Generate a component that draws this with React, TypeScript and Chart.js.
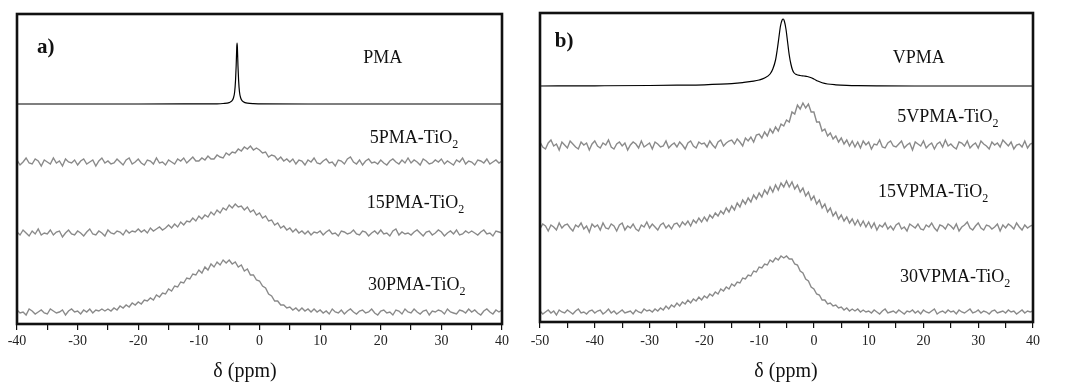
import React, { useEffect, useRef } from 'react';
import { Chart, registerables } from 'chart.js';
Chart.register(...registerables);

const SERIF = '"Liberation Serif", "Times New Roman", serif';

// ---------- panel a (x grid, ppm) ----------
const X_A = [-40,-39.5,-39,-38.5,-38,-37.5,-37,-36.5,-36,-35.5,-35,-34.5,-34,-33.5,-33,-32.5,-32,-31.5,-31,-30.5,-30,-29.5,-29,-28.5,-28,-27.5,-27,-26.5,-26,-25.5,-25,-24.5,-24,-23.5,-23,-22.5,-22,-21.5,-21,-20.5,-20,-19.5,-19,-18.5,-18,-17.5,-17,-16.5,-16,-15.5,-15,-14.5,-14,-13.5,-13,-12.5,-12,-11.5,-11,-10.5,-10,-9.5,-9,-8.5,-8,-7.5,-7,-6.5,-6,-5.5,-5,-4.5,-4,-3.5,-3,-2.5,-2,-1.5,-1,-0.5,0,0.5,1,1.5,2,2.5,3,3.5,4,4.5,5,5.5,6,6.5,7,7.5,8,8.5,9,9.5,10,10.5,11,11.5,12,12.5,13,13.5,14,14.5,15,15.5,16,16.5,17,17.5,18,18.5,19,19.5,20,20.5,21,21.5,22,22.5,23,23.5,24,24.5,25,25.5,26,26.5,27,27.5,28,28.5,29,29.5,30,30.5,31,31.5,32,32.5,33,33.5,34,34.5,35,35.5,36,36.5,37,37.5,38,38.5,39,39.5,40];

const X_PMA = [-40,-20,-10,-7,-6,-5,-4.6,-4.3,-4.1,-3.95,-3.85,-3.75,-3.7,-3.65,-3.55,-3.45,-3.3,-3.1,-2.8,-2.4,-2,-1,0,10,20,40];
const PMA = [0,0,0.1,0.2,0.5,1.4,2.8,6,12,24,38,57,61,57,38,24,12,6,2.8,1.4,0.8,0.3,0.2,0,0,0];

const PMA5 = [
  2,-3,0,4,-1,-2,3,1,-4,2,
  0,-2,4,-1,1,-4,3,0,-1,2,
  -3,1,3,-2,0,2,-4,1,4,-1,
  1,-2,-1,3,0,-3,2,4,-2,0,
  3,-1,-3,2,1,-2,4,-1,0,-3,
  2,0,-2,3,1,4,-1,2,5,1,
  1,4,2,6,3,3,7,5,4,9,
  7,10,9,13,11,15,13,16,12,14,
  12,9,10,5,7,6,2,5,1,3,
  0,3,-2,2,1,-3,2,0,4,-1,
  -2,1,3,-1,0,-4,2,1,-2,3,
  5,0,-2,2,-3,1,3,-1,0,-2,
  2,-1,-3,1,3,0,-2,2,-1,4,
  -1,2,0,-3,3,1,-2,-1,2,0,
  3,-2,1,-1,-3,2,0,4,-2,1,
  0,-3,2,1,-1,3,-2,0,2,-1,
  1];

const PMA15 = [
  1,-2,3,0,-3,2,-1,4,-2,0,
  -1,3,-2,1,2,-4,0,3,-1,-2,
  2,0,-3,1,4,-1,-2,2,0,-3,
  3,0,-1,2,1,-2,3,0,2,1,
  4,1,3,0,5,2,4,6,3,5,
  8,5,9,6,11,8,12,11,15,12,
  17,14,18,16,21,18,23,20,25,23,
  28,25,29,26,27,23,26,21,23,18,
  20,15,17,12,13,8,10,5,7,3,
  5,1,4,0,2,-1,2,-2,1,0,
  2,-2,1,3,-1,0,-3,2,1,-1,
  0,3,-1,-2,2,1,-3,0,2,-1,
  3,-1,0,-3,2,4,-2,1,-1,0,
  -2,1,3,0,-3,1,2,-2,0,3,
  1,-3,0,2,-1,3,-2,-1,2,0,
  2,0,-2,1,3,-1,0,-3,2,1,
  0];

const PMA30 = [
  2,-1,0,-3,3,1,-2,0,2,-1,
  -2,3,1,-1,0,2,-3,1,3,0,
  1,-2,2,0,3,-1,2,1,3,1,
  3,1,4,2,6,4,7,5,9,7,
  10,8,12,11,14,12,17,15,19,18,
  23,21,26,25,30,29,34,33,38,37,
  42,39,45,42,48,45,50,47,52,49,
  52,48,50,45,47,41,43,37,37,32,
  31,26,24,18,16,11,11,7,7,4,
  5,2,4,1,4,1,3,0,3,0,
  2,-1,1,-2,3,0,-1,2,-2,1,
  3,0,-2,1,2,-1,0,3,-1,-3,
  1,2,-1,0,-3,2,1,-2,3,0,
  -1,3,0,-2,1,2,-3,1,0,2,
  1,-2,3,0,-1,-2,2,1,-1,3,
  0,2,-1,-3,1,3,0,-2,2,0,
  2];

// ---------- panel b ----------
const X_B = [-50,-49.5,-49,-48.5,-48,-47.5,-47,-46.5,-46,-45.5,-45,-44.5,-44,-43.5,-43,-42.5,-42,-41.5,-41,-40.5,-40,-39.5,-39,-38.5,-38,-37.5,-37,-36.5,-36,-35.5,-35,-34.5,-34,-33.5,-33,-32.5,-32,-31.5,-31,-30.5,-30,-29.5,-29,-28.5,-28,-27.5,-27,-26.5,-26,-25.5,-25,-24.5,-24,-23.5,-23,-22.5,-22,-21.5,-21,-20.5,-20,-19.5,-19,-18.5,-18,-17.5,-17,-16.5,-16,-15.5,-15,-14.5,-14,-13.5,-13,-12.5,-12,-11.5,-11,-10.5,-10,-9.5,-9,-8.5,-8,-7.5,-7,-6.5,-6,-5.5,-5,-4.5,-4,-3.5,-3,-2.5,-2,-1.5,-1,-0.5,0,0.5,1,1.5,2,2.5,3,3.5,4,4.5,5,5.5,6,6.5,7,7.5,8,8.5,9,9.5,10,10.5,11,11.5,12,12.5,13,13.5,14,14.5,15,15.5,16,16.5,17,17.5,18,18.5,19,19.5,20,20.5,21,21.5,22,22.5,23,23.5,24,24.5,25,25.5,26,26.5,27,27.5,28,28.5,29,29.5,30,30.5,31,31.5,32,32.5,33,33.5,34,34.5,35,35.5,36,36.5,37,37.5,38,38.5,39,39.5,40];

const X_VPMA = [-50,-40,-30,-25,-20,-17,-15,-13,-11,-10,-9,-8,-7.5,-7,-6.7,-6.4,-6.1,-5.8,-5.6,-5.4,-5.1,-4.8,-4.5,-4.2,-3.9,-3.6,-3.2,-2.5,-1.8,-1.2,-0.6,0,0.7,1.5,2.5,4,6,8,12,20,40];
const VPMA = [0,0.2,0.5,0.8,1.2,1.8,2.4,3.4,4.8,6,8,12,17,26,36,48,60,66,67,65,57,44,31,22,16,13,11.5,10.5,10,9.5,8.5,7,5,3.2,2,1.2,0.6,0.3,0.1,0,0];

const VPMA5 = [
  3,-2,-4,2,5,-1,1,-5,3,0,
  -3,4,1,-2,-4,3,0,2,-5,1,
  4,-1,-3,2,0,5,-2,-4,1,3,
  -1,2,-5,0,3,1,-3,4,-2,0,
  2,-4,3,1,-2,-1,4,-3,0,2,
  -2,3,0,-4,2,4,-1,-3,3,1,
  2,-2,4,0,-3,3,5,-1,2,4,
  5,1,6,3,-1,7,4,8,3,10,
  11,7,13,9,16,12,18,14,21,19,
  25,23,33,31,40,36,42,37,41,33,
  33,23,23,14,16,9,12,6,9,3,
  7,1,5,-1,4,-2,3,-3,4,0,
  3,-4,1,0,5,-2,-3,2,4,-1,
  -2,1,4,-3,0,2,-5,3,1,-1,
  4,-3,0,2,-4,1,3,-2,5,-1,
  1,-2,-4,3,2,-1,4,-3,0,2,
  -3,4,1,-1,-4,3,0,2,-2,5,
  2,-1,3,-4,0,1,-2,4,-3,1,
  2];

const VPMA15 = [
  -2,3,1,-4,2,0,-3,4,-1,2,
  3,-1,-4,2,0,4,-2,1,-5,3,
  0,2,-3,4,-1,-2,3,1,-4,2,
  4,-3,1,-1,3,-2,-4,2,0,5,
  -1,3,0,-3,2,4,-1,2,-2,3,
  4,0,5,2,6,1,7,4,9,5,
  10,6,12,9,14,11,16,13,19,15,
  21,17,24,20,27,23,29,25,32,28,
  34,30,37,33,40,35,42,37,44,40,
  46,40,45,38,42,35,39,31,35,27,
  31,23,27,19,23,15,19,11,15,8,
  12,6,10,4,8,2,7,1,6,0,
  5,-1,4,-3,2,0,4,-2,1,-3,
  2,4,-2,0,-4,3,1,-1,3,-2,
  -3,2,0,4,-1,-4,2,1,-2,3,
  1,-2,3,-4,0,2,5,-1,-3,1,
  4,-1,-3,2,1,-2,0,3,-4,2,
  -1,3,1,-2,4,0,-3,2,-1,1,
  2];

const VPMA30 = [
  1,-2,0,2,-1,1,-3,2,0,-1,
  2,0,-2,1,3,-1,0,-2,1,2,
  -1,1,2,-2,0,3,-1,1,-2,0,
  2,-1,0,1,-2,2,0,-1,3,1,
  2,0,3,1,4,2,6,3,7,5,
  9,6,10,8,12,9,13,11,15,12,
  16,14,18,16,20,18,23,21,25,23,
  28,26,30,29,34,33,37,36,41,40,
  45,44,48,47,52,50,54,52,56,54,
  56,53,53,48,47,41,39,33,31,25,
  23,18,17,12,12,8,9,6,7,4,
  5,2,4,1,3,1,3,0,2,0,
  1,-1,2,0,-2,1,3,-1,0,1,
  -1,2,0,-2,1,0,2,-1,1,-2,
  2,0,-1,1,3,-2,0,1,-1,2,
  0,1,-2,2,0,-1,1,3,-1,0,
  2,-1,1,0,-2,1,2,-1,0,1,
  -1,2,0,1,-2,0,2,-1,1,0,
  1];

const TICK_STEP = 5;
const LABEL_STEP = 10;

type Series = { xs: number[]; ys: number[]; offset: number; color: string; width: number; smooth: boolean };
type Label = { text: string; sub?: string; x: number; y: number; bold?: boolean };

const GREY = '#8a8a8a';

const panelA = {
  xMin: -40, xMax: 40, yMax: 310,
  pad: { left: 17, right: 18, top: 14 }, axisH: 62, tickPad: 3,
  series: [
    { xs: X_PMA, ys: PMA, offset: 220, color: '#000000', width: 1.2, smooth: true },
    { xs: X_A, ys: PMA5, offset: 162, color: GREY, width: 1.4, smooth: false },
    { xs: X_A, ys: PMA15, offset: 91, color: GREY, width: 1.4, smooth: false },
    { xs: X_A, ys: PMA30, offset: 12, color: GREY, width: 1.4, smooth: false },
  ] as Series[],
  labels: [
    { text: 'a)', x: -36.7, y: 271, bold: true },
    { text: 'PMA', x: 17.1, y: 261 },
    { text: '5PMA-TiO', sub: '2', x: 18.2, y: 181 },
    { text: '15PMA-TiO', sub: '2', x: 17.7, y: 116 },
    { text: '30PMA-TiO', sub: '2', x: 17.9, y: 34 },
  ] as Label[],
  title: 'δ (ppm)', titleX: 245, titleY: 372,
};

const panelB = {
  xMin: -50, xMax: 40, yMax: 309,
  pad: { left: 20, right: 48, top: 13 }, axisH: 64, tickPad: 5,
  series: [
    { xs: X_VPMA, ys: VPMA, offset: 236, color: '#000000', width: 1.2, smooth: true },
    { xs: X_B, ys: VPMA5, offset: 177, color: GREY, width: 1.4, smooth: false },
    { xs: X_B, ys: VPMA15, offset: 95, color: GREY, width: 1.4, smooth: false },
    { xs: X_B, ys: VPMA30, offset: 10, color: GREY, width: 1.4, smooth: false },
  ] as Series[],
  labels: [
    { text: 'b)', x: -47.3, y: 275, bold: true },
    { text: 'VPMA', x: 14.4, y: 259 },
    { text: '5VPMA-TiO', sub: '2', x: 15.2, y: 200 },
    { text: '15VPMA-TiO', sub: '2', x: 11.7, y: 125 },
    { text: '30VPMA-TiO', sub: '2', x: 15.7, y: 40 },
  ] as Label[],
  title: 'δ (ppm)', titleX: 266, titleY: 372,
};

const textPlugin = {
  id: 'panelText',
  afterDraw(chart: any, _args: any, opts: any) {
    const { ctx, chartArea, scales } = chart;
    ctx.save();
    ctx.strokeStyle = '#111';
    ctx.lineWidth = 2.6;
    ctx.strokeRect(chartArea.left, chartArea.top, chartArea.right - chartArea.left, chartArea.bottom - chartArea.top);
    ctx.fillStyle = '#111';
    ctx.textAlign = 'left';
    ctx.textBaseline = 'alphabetic';
    for (const l of opts.labels as Label[]) {
      const px = scales.x.getPixelForValue(l.x);
      const py = scales.y.getPixelForValue(l.y);
      ctx.font = l.bold ? `bold 21px ${SERIF}` : `18px ${SERIF}`;
      ctx.fillText(l.text, px, py);
      if (l.sub) {
        const w = ctx.measureText(l.text).width;
        ctx.font = `12px ${SERIF}`;
        ctx.fillText(l.sub, px + w, py + 5);
      }
    }
    ctx.font = `20px ${SERIF}`;
    ctx.textAlign = 'center';
    ctx.textBaseline = 'middle';
    ctx.fillText(opts.title, opts.titleX, opts.titleY);
    ctx.restore();
  },
};

function Panel({ cfg, left, width }: { cfg: typeof panelA; left: number; width: number }) {
  const ref = useRef<HTMLCanvasElement>(null);
  useEffect(() => {
    if (!ref.current) return;
    const chart = new Chart(ref.current, {
      type: 'line',
      data: {
        datasets: cfg.series.map((s) => ({
          data: s.xs.map((x, i) => ({ x, y: s.ys[i] + s.offset })),
          borderColor: s.color,
          borderWidth: s.width,
          pointRadius: 0,
          fill: false,
          cubicInterpolationMode: s.smooth ? 'monotone' : 'default',
          tension: 0,
        })),
      },
      options: {
        animation: false,
        responsive: true,
        maintainAspectRatio: false,
        layout: { padding: { left: cfg.pad.left, right: cfg.pad.right, top: cfg.pad.top, bottom: 0 } },
        plugins: {
          legend: { display: false },
          tooltip: { enabled: false },
          panelText: { labels: cfg.labels, title: cfg.title, titleX: cfg.titleX, titleY: cfg.titleY },
        } as any,
        scales: {
          x: {
            type: 'linear',
            min: cfg.xMin,
            max: cfg.xMax,
            afterFit: (s: any) => { s.height = cfg.axisH; },
            border: { display: false },
            grid: { drawOnChartArea: false, drawTicks: true, tickLength: 6, color: '#111', lineWidth: 1.2 },
            ticks: {
              stepSize: TICK_STEP,
              autoSkip: false,
              maxRotation: 0,
              padding: cfg.tickPad,
              color: '#222',
              font: { family: SERIF, size: 14 },
              callback: (v: any) => (Number(v) % LABEL_STEP === 0 ? String(v) : ''),
            },
          },
          y: { type: 'linear', display: false, min: 0, max: cfg.yMax },
        },
      },
      plugins: [textPlugin],
    } as any);
    return () => chart.destroy();
  }, [cfg]);
  return (
    <div style={{ position: 'absolute', left, top: 0, width, height: 386 }}>
      <canvas ref={ref} />
    </div>
  );
}

export default function App() {
  return (
    <div style={{ position: 'absolute', left: 0, top: 0, width: 1081, height: 386, background: '#fff' }}>
      <Panel cfg={panelA} left={0} width={520} />
      <Panel cfg={panelB as any} left={520} width={561} />
    </div>
  );
}
